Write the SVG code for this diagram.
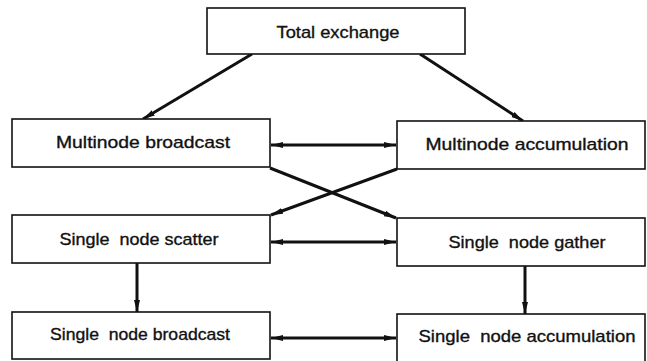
<svg xmlns="http://www.w3.org/2000/svg" width="647" height="361" viewBox="0 0 647 361">
<style>
.box{fill:#fff;stroke:#111;stroke-width:1.6}
.lbl{font-family:"Liberation Sans",Arial,sans-serif;font-size:17px;fill:#111;stroke:#111;stroke-width:0.35;text-anchor:middle}
.c{stroke:#111;stroke-width:3;fill:none;marker-end:url(#ah)}
.d{marker-start:url(#as)}
</style>
<defs>
<marker id="ah" markerUnits="userSpaceOnUse" markerWidth="14" markerHeight="10" refX="12" refY="4" orient="auto">
<path d="M0,1 L12,4 L0,7 Z" fill="#111"/>
</marker>
<marker id="as" markerUnits="userSpaceOnUse" markerWidth="14" markerHeight="10" refX="0" refY="4" orient="auto">
<path d="M12,1 L0,4 L12,7 Z" fill="#111"/>
</marker>
</defs>
<rect width="647" height="361" fill="#fff"/>
<g id="connectors">
<line class="c" x1="252" y1="54" x2="143" y2="119"/>
<line class="c" x1="420" y1="54" x2="523" y2="121"/>
<line class="c d" x1="271" y1="145" x2="396" y2="145"/>
<line class="c" x1="270" y1="168" x2="396" y2="218"/>
<line class="c" x1="397" y1="169" x2="271" y2="215"/>
<line class="c d" x1="271" y1="242" x2="396" y2="242"/>
<line class="c" x1="137" y1="263" x2="137" y2="312"/>
<line class="c" x1="525" y1="266" x2="525" y2="314"/>
<line class="c d" x1="271" y1="338" x2="396" y2="338"/>
</g>
<g id="total-exchange">
<rect class="box" x="207" y="8" width="258" height="46"/>
<text class="lbl" x="338" y="38" textLength="123" lengthAdjust="spacingAndGlyphs">Total exchange</text>
</g>
<g id="multinode-broadcast">
<rect class="box" x="12" y="119" width="258" height="48"/>
<text class="lbl" x="143" y="148" textLength="174" lengthAdjust="spacingAndGlyphs">Multinode broadcast</text>
</g>
<g id="multinode-accumulation">
<rect class="box" x="397" y="121" width="248" height="48"/>
<text class="lbl" x="527" y="150" textLength="203" lengthAdjust="spacingAndGlyphs">Multinode accumulation</text>
</g>
<g id="single-node-scatter">
<rect class="box" x="12" y="215" width="258" height="48"/>
<text class="lbl" x="139" y="245" textLength="159" lengthAdjust="spacingAndGlyphs" xml:space="preserve">Single  node scatter</text>
</g>
<g id="single-node-gather">
<rect class="box" x="397" y="218" width="248" height="48"/>
<text class="lbl" x="527" y="248" textLength="157" lengthAdjust="spacingAndGlyphs" xml:space="preserve">Single  node gather</text>
</g>
<g id="single-node-broadcast">
<rect class="box" x="12" y="312" width="258" height="47"/>
<text class="lbl" x="140" y="340" textLength="180" lengthAdjust="spacingAndGlyphs" xml:space="preserve">Single  node broadcast</text>
</g>
<g id="single-node-accumulation">
<rect class="box" x="397" y="314" width="248" height="48"/>
<text class="lbl" x="527" y="342" textLength="217" lengthAdjust="spacingAndGlyphs" xml:space="preserve">Single  node accumulation</text>
</g>
</svg>
